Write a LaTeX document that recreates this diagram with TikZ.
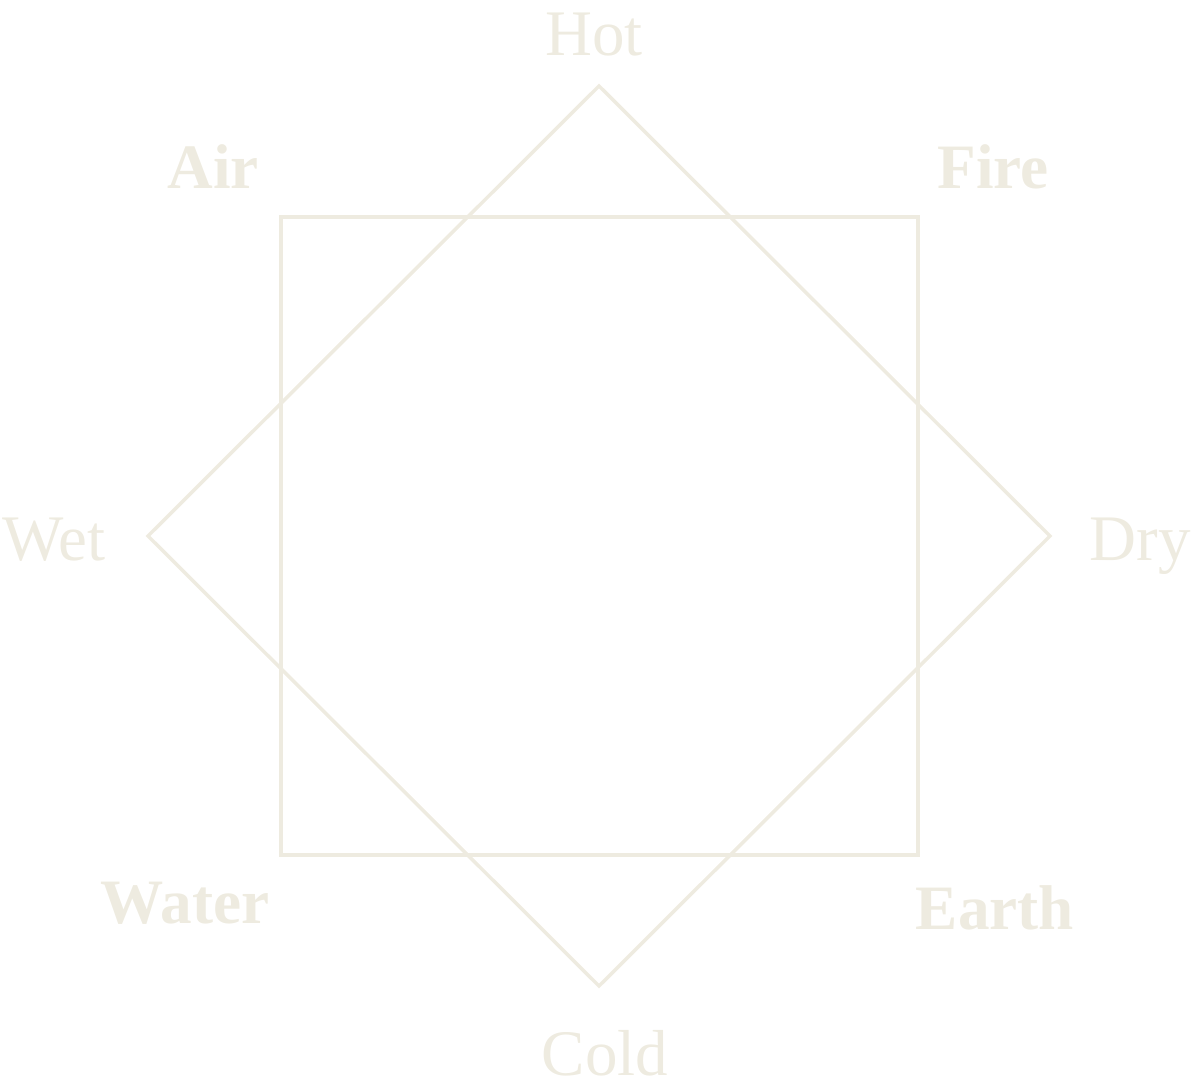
\documentclass[tikz,border=0pt]{standalone}
\usepackage{fontspec}
\setmainfont{Liberation Serif}
\usepackage{xcolor}
\usepackage{tikz}
\usetikzlibrary{positioning,calc}
\definecolor{parch}{HTML}{EEEBE0}
\tikzset{
    quality/.style={text=parch,anchor=base,inner sep=0pt,font=\fontsize{37}{40}\selectfont},
    element/.style={quality,font=\fontsize{36}{40}\selectfont\bfseries},
    frame/.style={draw=parch,line width=2pt}
}
\begin{document}
\begin{tikzpicture}[x=0.02cm,y=-0.02cm]
    \useasboundingbox (0,0) rectangle (1191,1091);
    % square and diamond
    \coordinate (sqA) at (281,217);
    \coordinate (sqB) at (918,855);
    \coordinate (top) at (599,86);
    \coordinate (right) at (1050,536);
    \coordinate (bottom) at (599,986);
    \coordinate (left) at (148,536);
    \draw[frame] (sqA) rectangle (sqB);
    \draw[frame] (top) -- (right) -- (bottom) -- (left) -- cycle;
    % qualities
    \node[quality] (hot) at (594,56) {Hot};
    \node[quality] (cold) at (605,1075) {Cold};
    \node[quality] (wet) at (54,560) {Wet};
    \node[quality] (dry) at (1140,560) {Dry};
    % elements
    \node[element] (air) at (213,189) {Air};
    \node[element] (fire) at (993,189) {Fire};
    \node[element] (water) at (185,923) {Water};
    \node[element] (earth) at (995,929) {Earth};
\end{tikzpicture}
\end{document}
